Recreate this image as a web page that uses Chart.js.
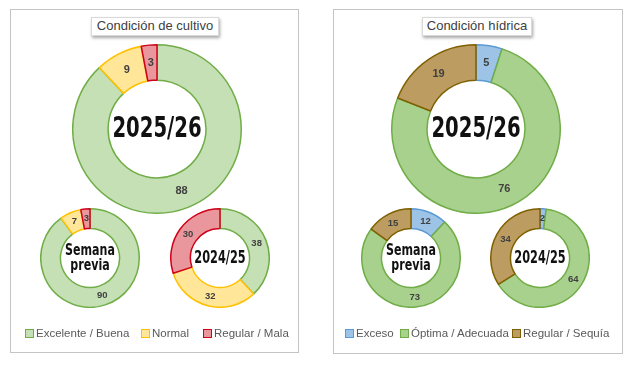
<!DOCTYPE html>
<html>
<head>
<meta charset="utf-8">
<script src="https://cdn.jsdelivr.net/npm/chart.js@4"></script>
<style>
  body { margin:0; background:#fff; width:640px; height:365px; position:relative; overflow:hidden; font-family:"Liberation Sans", Arial, sans-serif; }
  .panel { position:absolute; border:1.5px solid #c4c4c4; box-sizing:border-box; }
  .title { position:absolute; background:#fff; border:1px solid #d9d9d9; box-shadow:1px 2px 3px rgba(0,0,0,0.35); font-size:13px; color:#404040; text-align:center; line-height:16px; }
  canvas { position:absolute; }
  .legend { position:absolute; font-size:11.5px; color:#595959; white-space:nowrap; }
  .legend span.item { position:absolute; top:0; }
  .legend i { display:inline-block; width:7px; height:7px; border:1.2px solid; margin-right:2px; vertical-align:-1px; }
</style>
</head>
<body>
<div class="panel" style="left:10px;top:9px;width:289px;height:344px"></div>
<div class="panel" style="left:333px;top:9px;width:290px;height:345px"></div>
<div class="title" style="left:91px;top:17px;width:126px;height:17px">Condición de cultivo</div>
<div class="title" style="left:422px;top:17px;width:108px;height:17px">Condición hídrica</div>

<canvas id="c1" width="170" height="170" style="left:72px;top:44px"></canvas>
<canvas id="c2" width="100" height="100" style="left:40px;top:208px"></canvas>
<canvas id="c3" width="100" height="100" style="left:170px;top:208px"></canvas>
<canvas id="w1" width="170" height="170" style="left:391px;top:44px"></canvas>
<canvas id="w2" width="100" height="100" style="left:361px;top:208px"></canvas>
<canvas id="w3" width="100" height="100" style="left:490px;top:208px"></canvas>

<div class="legend" id="leg1" style="left:0;top:327px"></div>
<div class="legend" id="leg2" style="left:0;top:327px"></div>

<script>
// condición de cultivo
const cropLabels = ['Excelente / Buena', 'Normal', 'Regular / Mala'];
const crop2526 = [88, 9, 3];
const cropPrev = [90, 7, 3];
const crop2425 = [38, 32, 30];

// condición hídrica
const waterLabels = ['Exceso', 'Óptima / Adecuada', 'Regular / Sequía'];
const water2526 = [5, 76, 19];
const waterPrev = [12, 73, 15];
const water2425 = [2, 64, 34];

const cropFill = ['#c5e0b4', '#ffe699', '#e9979d'];
const cropBorder = ['#70ad47', '#ffc000', '#d0021b'];
const waterFill = ['#9dc3e6', '#a9d18e', '#bc9c60'];
const waterBorder = ['#5b9bd5', '#70ad47', '#7f6000'];

const condensed = "'DejaVu Sans Condensed', sans-serif";

// numbers on the ring + text in the hole
const donutText = {
  id: 'donutText',
  afterDatasetsDraw(chart, args, opts) {
    const ctx = chart.ctx;
    const meta = chart.getDatasetMeta(0);
    ctx.save();
    ctx.fillStyle = '#404040';
    ctx.font = 'bold ' + opts.valSize + 'px "Liberation Sans", Arial, sans-serif';
    ctx.textAlign = 'center';
    ctx.textBaseline = 'middle';
    meta.data.forEach((arc, i) => {
      const p = arc.tooltipPosition();
      ctx.fillText(chart.data.datasets[0].data[i], p.x, p.y);
    });
    const a = meta.data[0];
    ctx.fillStyle = '#111';
    ctx.font = 'bold ' + opts.size + 'px ' + condensed;
    const lines = opts.center;
    const lh = opts.size;
    ctx.translate(a.x, a.y);
    ctx.scale(opts.sx, 1);
    lines.forEach((t, k) => {
      ctx.fillText(t, 0, (k - (lines.length - 1) / 2) * lh + 1);
    });
    ctx.restore();
  }
};

function donut(id, labels, data, fill, border, center, size, sx, cut, valSize) {
  return new Chart(document.getElementById(id), {
    type: 'doughnut',
    data: {
      labels: labels,
      datasets: [{ data: data, backgroundColor: fill, borderColor: border, borderWidth: 1.5 }]
    },
    options: {
      responsive: false,
      animation: false,
      cutout: cut,
      layout: { padding: 0 },
      plugins: {
        legend: { display: false },
        tooltip: { enabled: false },
        donutText: { center: center, size: size, sx: sx, valSize: valSize }
      }
    },
    plugins: [donutText]
  });
}

donut('c1', cropLabels, crop2526, cropFill, cropBorder, ['2025/26'], 28, 0.78, '58%', 11);
donut('c2', cropLabels, cropPrev, cropFill, cropBorder, ['Semana', 'previa'], 15, 0.82, '60%', 9.5);
donut('c3', cropLabels, crop2425, cropFill, cropBorder, ['2024/25'], 17, 0.74, '60%', 9.5);
donut('w1', waterLabels, water2526, waterFill, waterBorder, ['2025/26'], 28, 0.78, '58%', 11);
donut('w2', waterLabels, waterPrev, waterFill, waterBorder, ['Semana', 'previa'], 15, 0.82, '60%', 9.5);
donut('w3', waterLabels, water2425, waterFill, waterBorder, ['2024/25'], 17, 0.74, '60%', 9.5);

// legends
function legend(id, labels, fill, border, xs) {
  const el = document.getElementById(id);
  labels.forEach((l, i) => {
    const s = document.createElement('span');
    s.className = 'item';
    s.style.left = xs[i] + 'px';
    s.innerHTML = '<i style="background:' + fill[i] + ';border-color:' + border[i] + '"></i>' + l;
    el.appendChild(s);
  });
}
legend('leg1', cropLabels, cropFill, cropBorder, [25, 141, 203]);
legend('leg2', waterLabels, waterFill, waterBorder, [345, 400, 512]);
</script>
</body>
</html>
